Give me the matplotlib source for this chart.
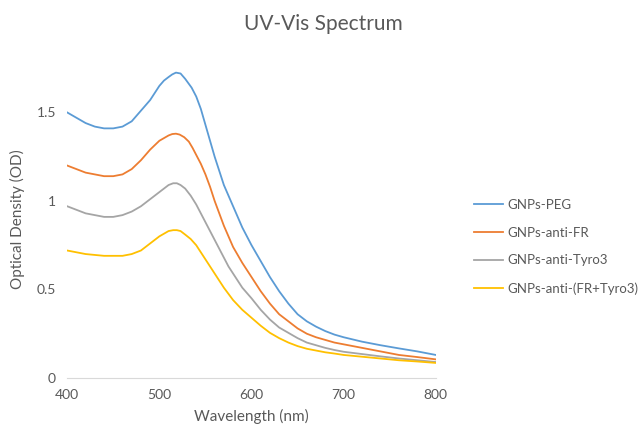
import matplotlib.pyplot as plt

plt.rcParams['font.family'] = ['Lato', 'DejaVu Sans']

# wavelength (nm) / optical density
wl_peg = [400, 410, 420, 430, 440, 450, 460, 470, 480, 490, 495, 500, 505, 510, 514, 518, 523, 528, 535,
          540, 545, 550, 555, 560, 565, 570, 575, 580, 590, 600, 610, 620, 630, 640, 650, 660, 670,
          680, 690, 700, 720, 740, 760, 780, 800]
od_peg = [1.50, 1.47, 1.44, 1.42, 1.41, 1.41, 1.42, 1.45, 1.51, 1.57, 1.61, 1.65, 1.68, 1.70, 1.715, 1.725, 1.72, 1.69, 1.64,
          1.59, 1.52, 1.43, 1.34, 1.25, 1.17, 1.09, 1.03, 0.97, 0.85, 0.75, 0.66, 0.57, 0.49, 0.42, 0.36, 0.32, 0.29,
          0.265, 0.245, 0.23, 0.205, 0.185, 0.167, 0.15, 0.13]

wl_fr = [400, 410, 420, 430, 440, 450, 460, 470, 480, 490, 500, 505, 510, 514, 518, 522, 527, 532,
         536, 540, 545, 550, 555, 560, 565, 570, 575, 580, 590, 600, 610, 620, 630, 640, 650, 660,
         670, 680, 690, 700, 720, 740, 760, 780, 800]
od_fr = [1.20, 1.18, 1.16, 1.15, 1.14, 1.14, 1.15, 1.18, 1.23, 1.29, 1.34, 1.355, 1.37, 1.378, 1.38, 1.375, 1.36, 1.335,
         1.30, 1.26, 1.21, 1.15, 1.08, 1.00, 0.93, 0.86, 0.80, 0.74, 0.65, 0.57, 0.49, 0.42, 0.36, 0.32, 0.28, 0.25,
         0.23, 0.215, 0.20, 0.19, 0.17, 0.15, 0.13, 0.118, 0.105]

wl_tyro = [400, 420, 440, 450, 460, 470, 480, 490, 500, 505, 510, 515, 519, 523, 528, 534,
           540, 545, 550, 555, 560, 565, 570, 575, 580, 590, 600, 610, 620, 630, 640, 650, 660,
           670, 680, 690, 700, 720, 740, 760, 780, 800]
od_tyro = [0.97, 0.93, 0.91, 0.91, 0.92, 0.94, 0.97, 1.01, 1.05, 1.07, 1.09, 1.10, 1.10, 1.09, 1.07, 1.03,
           0.98, 0.93, 0.88, 0.83, 0.78, 0.73, 0.68, 0.63, 0.59, 0.51, 0.45, 0.385, 0.33, 0.285, 0.255, 0.225, 0.20,
           0.185, 0.17, 0.158, 0.148, 0.135, 0.122, 0.11, 0.10, 0.09]

wl_both = [400, 420, 440, 450, 460, 470, 480, 490, 500, 505, 510, 515, 519, 523, 528, 534,
           540, 545, 550, 555, 560, 565, 570, 575, 580, 590, 600, 610, 620, 630, 640, 650, 660,
           670, 680, 690, 700, 720, 740, 760, 780, 800]
od_both = [0.72, 0.70, 0.69, 0.69, 0.69, 0.70, 0.72, 0.76, 0.80, 0.815, 0.83, 0.835, 0.835, 0.83, 0.81, 0.785,
           0.75, 0.71, 0.67, 0.63, 0.59, 0.55, 0.51, 0.475, 0.44, 0.385, 0.34, 0.295, 0.255, 0.225, 0.20, 0.18, 0.165,
           0.155, 0.145, 0.138, 0.13, 0.12, 0.11, 0.10, 0.093, 0.085]

labels = ['GNPs-PEG', 'GNPs-anti-FR', 'GNPs-anti-Tyro3', 'GNPs-anti-(FR+Tyro3)']
colors = ['#5B9BD5', '#ED7D31', '#A5A5A5', '#FFC000']

fig = plt.figure(figsize=(6.4, 4.3), dpi=100)
ax = fig.add_axes([0.105, 0.121, 0.576, 0.741])

series = [(wl_peg, od_peg), (wl_fr, od_fr), (wl_tyro, od_tyro), (wl_both, od_both)]
for (x, y), lab, c in zip(series, labels, colors):
    ax.plot(x, y, color=c, lw=1.3, label=lab)

ax.set_xlim(400, 800)
ax.set_ylim(0, 1.8)
ax.set_xticks([400, 500, 600, 700, 800])
ax.set_yticks([0, 0.5, 1, 1.5])
ax.set_yticklabels(['0', '0.5', '1', '1.5'])
for s in ['top', 'right', 'left']:
    ax.spines[s].set_visible(False)
ax.spines['bottom'].set_color('#D9D9D9')
ax.tick_params(length=0, labelsize=10, colors='#595959', pad=8)
ax.set_xlabel('Wavelength (nm)', fontsize=11, color='#595959', labelpad=6)
ax.set_ylabel('Optical Density (OD)', fontsize=11, color='#595959', labelpad=8)

fig.suptitle('UV-Vis Spectrum', x=0.505, y=0.968, fontsize=15, color='#595959')

fig.legend(loc='center left', bbox_to_anchor=(0.722, 0.426), frameon=False,
           fontsize=9.5, labelcolor='#595959', handlelength=2.2, handletextpad=0.3,
           labelspacing=1.2)

fig.savefig('out.png', dpi=100)
